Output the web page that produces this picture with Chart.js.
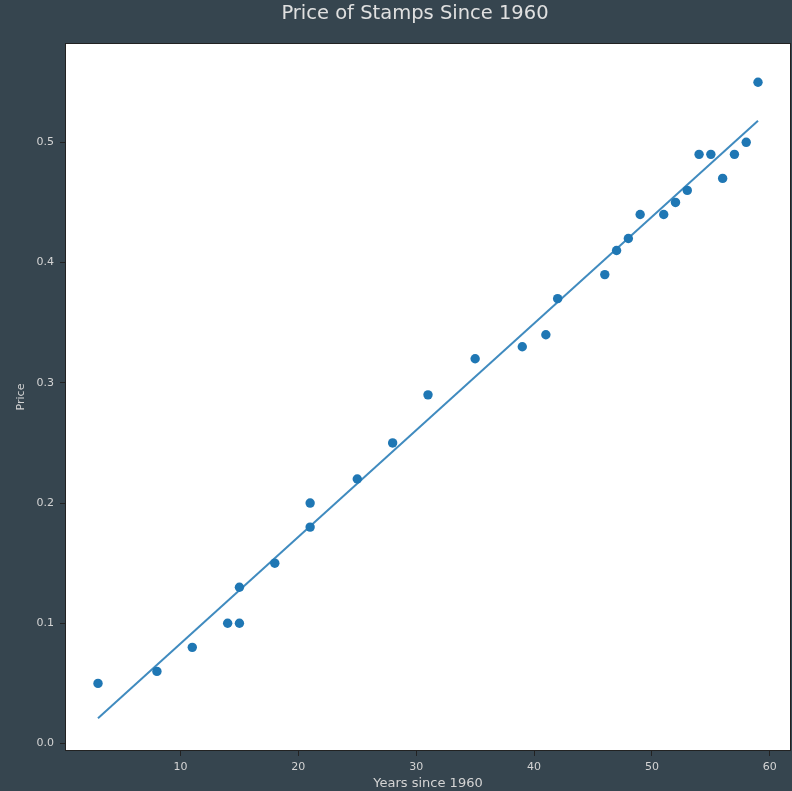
<!DOCTYPE html>
<html>
<head>
<meta charset="utf-8">
<script src="https://cdn.jsdelivr.net/npm/chart.js@4"></script>
<style>
  html, body { margin: 0; padding: 0; background: #36454f; overflow: hidden; }
  #chart { display: block; }
</style>
</head>
<body>
<canvas id="chart" width="792" height="791"></canvas>
<script>
// stamp prices
const years = [3, 8, 11, 14, 15, 15, 18, 21, 21, 25, 28, 31, 35, 39, 41, 42, 46, 47, 48, 49, 51, 52, 53, 54, 55, 56, 57, 58, 59];
const prices = [0.05, 0.06, 0.08, 0.10, 0.10, 0.13, 0.15, 0.18, 0.20, 0.22, 0.25, 0.29, 0.32, 0.33, 0.34, 0.37, 0.39, 0.41, 0.42, 0.44, 0.44, 0.45, 0.46, 0.49, 0.49, 0.47, 0.49, 0.50, 0.55];

// fitted line end points
const fitYears = [3, 59];
const fitPrices = [0.021, 0.518];

const xTicks = [10, 20, 30, 40, 50, 60];
const yTicks = [0.0, 0.1, 0.2, 0.3, 0.4, 0.5];

const textColor = "#d4d4d4";
const font = "'DejaVu Sans', sans-serif";

// white plot area with a dark frame, plus the figure title
const framePlugin = {
    id: "frame",
    beforeDraw(chart) {
        const { ctx, chartArea: a } = chart;
        ctx.save();
        ctx.fillStyle = "#ffffff";
        ctx.fillRect(a.left, a.top, a.right - a.left, a.bottom - a.top);
        ctx.restore();
    },
    afterDraw(chart) {
        const { ctx, chartArea: a } = chart;
        ctx.save();
        ctx.strokeStyle = "#222222";
        ctx.lineWidth = 1;
        ctx.strokeRect(a.left + 0.5, a.top + 0.5, a.right - a.left - 1, a.bottom - a.top - 1);
        ctx.fillStyle = "#e0e0e0";
        ctx.font = "19.5px " + font;
        ctx.textAlign = "center";
        ctx.textBaseline = "middle";
        ctx.fillText("Price of Stamps Since 1960", 415, 14);
        ctx.restore();
    }
};

const ctx = document.getElementById("chart").getContext("2d");
new Chart(ctx, {
    type: "scatter",
    data: {
        datasets: [{
            label: "Price",
            data: years.map((x, i) => ({ x: x, y: prices[i] })),
            backgroundColor: "#1f77b4",
            borderColor: "#1f77b4",
            pointRadius: 4.7,
            pointBorderWidth: 0,
            order: 2,
        }, {
            label: "Fit",
            data: fitYears.map((x, i) => ({ x: x, y: fitPrices[i] })),
            showLine: true,
            borderColor: "rgba(31, 119, 180, 0.85)",
            borderWidth: 2,
            pointRadius: 0,
            order: 1,
        }],
    },
    options: {
        responsive: false,
        animation: false,
        devicePixelRatio: 1,
        layout: { autoPadding: false, padding: { left: 0, top: 43, right: 1, bottom: 0 } },
        plugins: {
            legend: { display: false },
            tooltip: { enabled: false },
        },
        scales: {
            x: {
                type: "linear",
                min: 0.2,
                max: 61.8,
                afterFit: (s) => { s.height = 40; s.paddingLeft = 0; s.paddingRight = 0; },
                afterBuildTicks: (s) => { s.ticks = xTicks.map((v) => ({ value: v })); },
                grid: { drawOnChartArea: false, drawTicks: true, tickLength: 5, color: "#222222" },
                border: { display: false },
                ticks: { color: textColor, font: { family: font, size: 11 }, padding: 5, maxRotation: 0 },
                title: { display: true, text: "Years since 1960", color: textColor, font: { family: font, size: 13 }, padding: { top: 0, bottom: 0 } },
            },
            y: {
                type: "linear",
                min: -0.0062,
                max: 0.5826,
                afterFit: (s) => { s.width = 65; s.paddingTop = 0; s.paddingBottom = 0; },
                afterBuildTicks: (s) => { s.ticks = yTicks.map((v) => ({ value: v })); },
                grid: { drawOnChartArea: false, drawTicks: true, tickLength: 5, color: "#222222" },
                border: { display: false },
                ticks: { color: textColor, font: { family: font, size: 11 }, padding: 6, callback: (v) => v.toFixed(1) },
                title: { display: true, text: "Price", color: textColor, font: { family: font, size: 11 }, padding: { top: 15, bottom: 0 } },
            },
        },
    },
    plugins: [framePlugin],
});
</script>
</body>
</html>
